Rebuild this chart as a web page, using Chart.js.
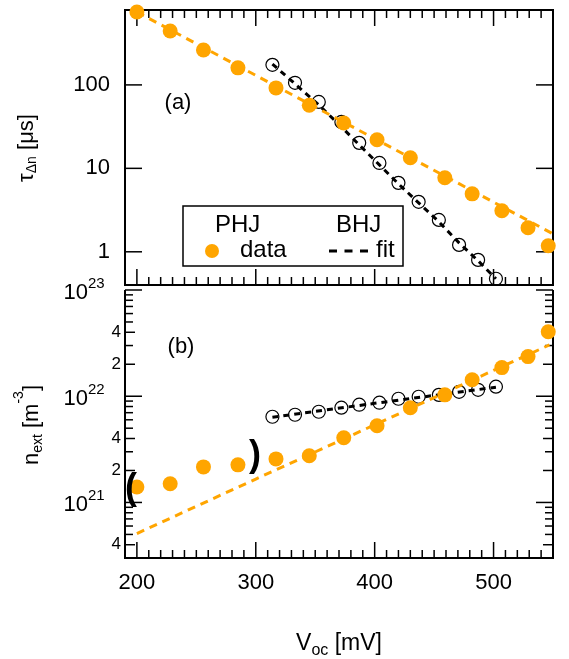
<!DOCTYPE html>
<html>
<head>
<meta charset="utf-8">
<script src="https://cdn.jsdelivr.net/npm/chart.js@4.4.0/dist/chart.umd.min.js"></script>
<style>
  html, body { margin: 0; padding: 0; background: #fff; }
  #wrap { position: relative; width: 569px; height: 659px; }
  #wrap canvas { position: absolute; left: 0; top: 0; }
</style>
</head>
<body>
<div id="wrap">
  <canvas id="tauChart" width="569" height="659"></canvas>
  <canvas id="nChart" width="569" height="659"></canvas>
</div>
<script>
// x axis: open circuit voltage in mV
const vocTicks = [200, 300, 400, 500];

// PHJ (orange filled dots)
const phjVoc = [200, 228, 256, 285, 317, 345, 374, 402, 430, 459, 482, 507, 529, 546];
const phjTau = [748, 443, 262, 160, 92, 57, 35, 22, 13.4, 7.7, 4.95, 3.1, 1.94, 1.18];
const phjN = [1.40e21, 1.50e21, 2.16e21, 2.26e21, 2.57e21, 2.75e21, 4.06e21, 5.27e21, 7.8e21, 1.03e22, 1.43e22, 1.86e22, 2.36e22, 4.05e22];

// PHJ fits
const phjFitVoc = [200, 300, 400, 500, 550];
const phjFitTau = [748, 130, 22.7, 3.94, 1.64];
const phjFitNVoc = [200, 300, 400, 500, 547];
const phjFitN = [5.1e20, 1.66e21, 5.38e21, 1.75e22, 3.04e22];

// BHJ (open circles)
const bhjVoc = [314, 333, 353, 372, 387, 404, 420, 437, 454, 471, 487, 502];
const bhjTau = [174, 106, 62.5, 36, 20.2, 11.6, 6.7, 3.97, 2.41, 1.21, 0.80, 0.475];
const bhjN = [6.41e21, 6.69e21, 7.14e21, 7.8e21, 8.32e21, 8.69e21, 9.47e21, 9.89e21, 1.03e22, 1.10e22, 1.15e22, 1.23e22];

// BHJ fits
const bhjFitTau = [178, 103, 57.5, 31.4, 19.1, 11.0, 6.52, 3.86, 2.29, 1.28, 0.78, 0.475];
const bhjFitNVoc = [314, 400, 502];
const bhjFitN = [6.34e21, 8.57e21, 1.216e22];

// y ticks
const tauTicks = [1, 10, 100];
const tauTickLabels = ['1', '10', '100'];
const nTicks = [4e20, 1e21, 2e21, 4e21, 1e22, 2e22, 4e22, 1e23];
const nTickLabels = ['4', '', '2', '4', '', '2', '4', ''];

const ORANGE = '#ffa500';
const FONT = "'Liberation Sans', Arial, Helvetica, sans-serif";
Chart.defaults.font.family = FONT;
Chart.defaults.color = '#000';

function xy(xs, ys) { return xs.map((x, i) => ({ x: x, y: ys[i] })); }

function line(ctx, x1, y1, x2, y2) {
  ctx.beginPath(); ctx.moveTo(x1, y1); ctx.lineTo(x2, y2); ctx.stroke();
}

function richText(ctx, parts, cx, baseY, angle) {
  ctx.save();
  ctx.translate(cx, baseY);
  ctx.rotate(angle);
  let total = 0;
  parts.forEach(p => { ctx.font = p.s + 'px ' + FONT; p.w = ctx.measureText(p.t).width; total += p.w; });
  let x = -total / 2;
  ctx.fillStyle = '#000';
  ctx.textAlign = 'left';
  ctx.textBaseline = 'alphabetic';
  parts.forEach(p => { ctx.font = p.s + 'px ' + FONT; ctx.fillText(p.t, x, p.dy || 0); x += p.w; });
  ctx.restore();
}

function drawXTicks(chart, yEdge, dir) {
  const ctx = chart.ctx, sx = chart.scales.x;
  for (let v = 190; v <= 550; v += 10) {
    const px = sx.getPixelForValue(v);
    line(ctx, px, yEdge, px, yEdge + dir * (v % 100 === 0 ? 16 : 8));
  }
}

function fitDataset(xs, ys, color, dash) {
  return { data: xy(xs, ys), showLine: true, borderColor: color, borderWidth: 3,
           borderDash: dash, pointRadius: 0, fill: false, clip: false };
}
function phjDots(ys) {
  return { data: xy(phjVoc, ys), pointRadius: 7.5, pointHoverRadius: 7.5,
           backgroundColor: ORANGE, borderWidth: 0, clip: false };
}
function bhjCircles(ys) {
  return { data: xy(bhjVoc, ys), pointRadius: 6.5, pointHoverRadius: 6.5,
           backgroundColor: 'rgba(0,0,0,0)', borderColor: '#000', borderWidth: 1.2, clip: false };
}

function resetPad(s) { s.paddingTop = 0; s.paddingBottom = 0; s.paddingLeft = 0; s.paddingRight = 0; }

const panelA = {
  id: 'panelA',
  beforeDatasetsDraw(chart) {
    const ctx = chart.ctx, ca = chart.chartArea, sy = chart.scales.y;
    ctx.save();
    ctx.strokeStyle = '#000';
    ctx.lineWidth = 1.5;
    drawXTicks(chart, ca.top, 1);
    drawXTicks(chart, ca.bottom, -1);
    tauTicks.forEach(v => {
      const py = sy.getPixelForValue(v);
      line(ctx, ca.left, py, ca.left + 17, py);
      line(ctx, ca.right, py, ca.right - 17, py);
    });
    ctx.lineWidth = 2;
    ctx.strokeRect(ca.left, ca.top, ca.right - ca.left, ca.bottom - ca.top);
    ctx.restore();
  },
  afterDraw(chart) {
    const ctx = chart.ctx;
    ctx.save();
    // legend
    ctx.fillStyle = '#fff';
    ctx.fillRect(183, 206, 220, 60);
    ctx.strokeStyle = '#000';
    ctx.lineWidth = 1.5;
    ctx.strokeRect(183, 206, 220, 60);
    ctx.fillStyle = '#000';
    ctx.font = '24px ' + FONT;
    ctx.textBaseline = 'alphabetic';
    ctx.textAlign = 'left';
    ctx.fillText('PHJ', 215, 232);
    ctx.fillText('BHJ', 336, 232);
    ctx.fillText('data', 240, 257);
    ctx.fillText('fit', 376, 257);
    ctx.fillStyle = ORANGE;
    ctx.beginPath(); ctx.arc(212, 251, 7, 0, Math.PI * 2); ctx.fill();
    ctx.strokeStyle = '#000';
    ctx.lineWidth = 3;
    ctx.setLineDash([8, 7.5]);
    line(ctx, 329, 251, 368, 251);
    ctx.setLineDash([]);
    // panel label
    ctx.fillStyle = '#000';
    ctx.font = '22px ' + FONT;
    ctx.textAlign = 'center';
    ctx.textBaseline = 'middle';
    ctx.fillText('(a)', 178, 103);
    ctx.restore();
    richText(ctx, [{ t: 'τ', s: 22 }, { t: 'Δn', s: 14, dy: 3 }, { t: ' [μs]', s: 22 }], 33, 148, -Math.PI / 2);
  }
};

const panelB = {
  id: 'panelB',
  beforeDatasetsDraw(chart) {
    const ctx = chart.ctx, ca = chart.chartArea, sy = chart.scales.y;
    ctx.save();
    ctx.strokeStyle = '#000';
    ctx.lineWidth = 1.5;
    drawXTicks(chart, ca.bottom, -1);
    for (let e = 20; e <= 23; e++) {
      for (let m = 1; m <= 9; m++) {
        const v = m * Math.pow(10, e);
        if (v < sy.min * 0.999 || v > sy.max * 1.001) continue;
        const len = m === 1 ? 17 : (m === 2 || m === 4 ? 10 : 8);
        const py = sy.getPixelForValue(v);
        line(ctx, ca.left, py, ca.left + len, py);
        line(ctx, ca.right, py, ca.right - len, py);
      }
    }
    ctx.lineWidth = 2;
    line(ctx, ca.left, ca.top, ca.left, ca.bottom);
    line(ctx, ca.right, ca.top, ca.right, ca.bottom);
    line(ctx, ca.left - 1, ca.bottom, ca.right + 1, ca.bottom);
    // decade labels 10^n
    nTicks.forEach((v, i) => {
      if (nTickLabels[i] !== '') return;
      const py = sy.getPixelForValue(v);
      const exp = String(Math.round(Math.log10(v)));
      ctx.fillStyle = '#000';
      ctx.textBaseline = 'alphabetic';
      ctx.textAlign = 'right';
      ctx.font = '22px ' + FONT;
      ctx.fillText('10', 88, py + 9);
      ctx.textAlign = 'left';
      ctx.font = '15px ' + FONT;
      ctx.fillText(exp, 88, py - 2);
    });
    ctx.restore();
  },
  afterDraw(chart) {
    const ctx = chart.ctx;
    ctx.save();
    ctx.fillStyle = '#000';
    ctx.font = '22px ' + FONT;
    ctx.textAlign = 'center';
    ctx.textBaseline = 'middle';
    ctx.fillText('(b)', 181, 347);
    ctx.font = 'bold 36px ' + FONT;
    ctx.fillText('(', 131, 489);
    ctx.fillText(')', 255, 456);
    ctx.restore();
    richText(ctx, [{ t: 'n', s: 22 }, { t: 'ext', s: 14, dy: 4 }, { t: ' [m', s: 22 }, { t: '-3', s: 14, dy: -15 }, { t: ']', s: 22 }], 38, 425, -Math.PI / 2);
    richText(ctx, [{ t: 'V', s: 23 }, { t: 'oc', s: 16, dy: 5 }, { t: ' [mV]', s: 23 }], 339, 650, 0);
  }
};

const xBase = {
  type: 'linear', min: 190, max: 550,
  grid: { display: false, drawTicks: false }, border: { display: false },
  afterBuildTicks: s => { s.ticks = vocTicks.map(v => ({ value: v })); }
};

new Chart(document.getElementById('tauChart'), {
  type: 'scatter',
  data: {
    datasets: [
      fitDataset(phjFitVoc, phjFitTau, ORANGE, [8, 6]),
      phjDots(phjTau),
      fitDataset(bhjVoc, bhjFitTau, '#000', [6, 5]),
      bhjCircles(bhjTau)
    ]
  },
  options: {
    responsive: false, animation: false, events: [],
    layout: { padding: { left: 0, top: 10, right: 16, bottom: 374 } },
    plugins: { legend: { display: false }, tooltip: { enabled: false } },
    scales: {
      x: Object.assign({}, xBase, {
        ticks: { display: false },
        afterFit: s => { s.height = 0; resetPad(s); }
      }),
      y: {
        type: 'logarithmic', min: 0.4, max: 790,
        grid: { display: false, drawTicks: false }, border: { display: false },
        afterBuildTicks: s => { s.ticks = tauTicks.map(v => ({ value: v })); },
        ticks: { autoSkip: false, padding: 15, font: { size: 22 }, callback: (v, i) => tauTickLabels[i] },
        afterFit: s => { s.width = 125; resetPad(s); }
      }
    }
  },
  plugins: [panelA]
});

new Chart(document.getElementById('nChart'), {
  type: 'scatter',
  data: {
    datasets: [
      fitDataset(phjFitNVoc, phjFitN, ORANGE, [8, 6]),
      phjDots(phjN),
      fitDataset(bhjFitNVoc, bhjFitN, '#000', [6, 5]),
      bhjCircles(bhjN)
    ]
  },
  options: {
    responsive: false, animation: false, events: [],
    layout: { padding: { left: 0, top: 290, right: 16, bottom: 0 } },
    plugins: { legend: { display: false }, tooltip: { enabled: false } },
    scales: {
      x: Object.assign({}, xBase, {
        ticks: { autoSkip: false, maxRotation: 0, padding: 12, font: { size: 22 } },
        afterFit: s => { s.height = 101; resetPad(s); }
      }),
      y: {
        type: 'logarithmic', min: 3e20, max: 1e23,
        grid: { display: false, drawTicks: false }, border: { display: false },
        afterBuildTicks: s => { s.ticks = nTicks.map(v => ({ value: v })); },
        ticks: { autoSkip: false, padding: 4, font: { size: 17 }, callback: (v, i) => nTickLabels[i] },
        afterFit: s => { s.width = 125; resetPad(s); }
      }
    }
  },
  plugins: [panelB]
});
</script>
</body>
</html>
